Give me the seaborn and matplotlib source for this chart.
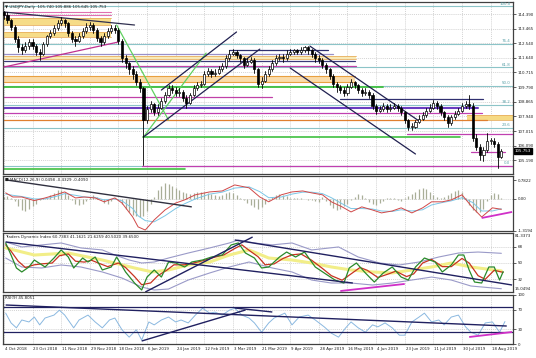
import numpy as np
import pandas as pd
import matplotlib
matplotlib.use("Agg")
import matplotlib.pyplot as plt
import seaborn as sns

sns.set_style("white")
plt.rcParams['font.family'] = ['DejaVu Sans']

# ---------------- DATA ----------------
date_labels = ["4 Oct 2018", "23 Oct 2018", "11 Nov 2018", "29 Nov 2018", "18 Dec 2018",
               "6 Jan 2019", "24 Jan 2019", "12 Feb 2019", "3 Mar 2019", "21 Mar 2019",
               "9 Apr 2019", "28 Apr 2019", "16 May 2019", "4 Jun 2019", "23 Jun 2019",
               "11 Jul 2019", "30 Jul 2019", "18 Aug 2019"]
bars_per_label = 16

# candles: one candle per 2 daily bars
close = [114.3, 114.0, 113.6, 112.8, 112.3, 112.1, 112.4, 112.6, 112.4, 112.0,
         111.9, 112.5, 113.0, 113.2, 113.5, 113.8, 114.0, 113.8, 113.2, 112.8,
         112.7, 113.0, 113.3, 113.6, 113.7, 113.4, 112.9, 112.6, 113.0, 113.3,
         113.5, 113.4, 112.7, 111.6, 111.3, 110.9, 110.6, 110.1, 109.7, 107.7,
         108.4, 108.7, 108.2, 108.5, 108.9, 109.3, 109.7, 109.6, 109.4, 109.5,
         109.1, 108.8, 109.3, 109.7, 109.9, 110.0, 110.6, 110.8, 110.6, 110.7,
         110.9, 111.1, 111.6, 111.9, 112.0, 111.8, 111.6, 111.2, 111.4, 111.5,
         110.9, 110.0, 110.2, 110.6, 110.9, 111.3, 111.6, 111.7, 111.6, 111.9,
         112.0, 112.1, 112.0, 112.1, 112.3, 112.1, 111.9, 111.6, 111.5, 111.2,
         110.9, 110.5, 110.0, 109.8, 109.6, 109.4, 109.8, 110.1, 109.9, 109.6,
         109.4, 109.5, 109.3, 108.6, 108.3, 108.4, 108.6, 108.4, 108.5, 108.6,
         108.5, 108.2, 107.7, 107.3, 107.3, 107.6, 107.8, 108.0, 108.3, 108.5,
         108.8, 108.6, 108.2, 107.9, 107.5, 107.9, 108.1, 108.3, 108.6, 108.7,
         108.6, 106.6, 106.0, 105.5, 105.8, 106.4, 106.4, 106.2, 105.4, 105.753]
high = [114.6, 114.5, 114.1, 113.7, 113.0, 112.5, 112.6, 112.8, 112.8, 112.5,
        112.2, 112.6, 113.1, 113.4, 113.7, 114.0, 114.2, 114.1, 113.9, 113.3,
        113.0, 113.2, 113.5, 113.8, 113.9, 113.8, 113.5, 113.0, 113.2, 113.5,
        113.7, 113.7, 113.5, 112.8, 111.8, 111.4, 111.1, 110.8, 110.3, 109.8,
        108.6, 108.9, 108.8, 108.7, 109.1, 109.5, 109.9, 109.9, 109.8, 109.7,
        109.6, 109.3, 109.4, 109.9, 110.1, 110.2, 110.8, 111.0, 110.9, 110.9,
        111.1, 111.3, 111.8, 112.1, 112.2, 112.1, 111.9, 111.7, 111.6, 111.7,
        111.6, 111.0, 110.4, 110.8, 111.1, 111.5, 111.8, 111.9, 111.9, 112.1,
        112.2, 112.2, 112.2, 112.3, 112.4, 112.4, 112.2, 112.0, 111.8, 111.6,
        111.3, 111.0, 110.6, 110.1, 109.9, 109.8, 110.0, 110.3, 110.2, 110.0,
        109.7, 109.7, 109.6, 109.4, 108.7, 108.6, 108.8, 108.7, 108.7, 108.8,
        108.7, 108.6, 108.3, 107.8, 107.5, 107.7, 108.0, 108.2, 108.5, 108.7,
        109.0, 108.9, 108.7, 108.3, 108.0, 108.0, 108.3, 108.5, 108.8, 108.9,
        109.3, 108.8, 106.8, 106.2, 106.0, 106.9, 106.6, 106.6, 106.3, 105.9]
low = [114.1, 113.8, 113.4, 112.6, 112.0, 111.9, 112.0, 112.2, 112.2, 111.8,
       111.5, 111.8, 112.4, 112.9, 113.1, 113.4, 113.7, 113.6, 113.0, 112.6,
       112.4, 112.6, 112.9, 113.2, 113.4, 113.2, 112.7, 112.4, 112.5, 112.9,
       113.2, 113.2, 112.5, 111.4, 111.0, 110.6, 110.3, 109.9, 109.5, 104.9,
       107.5, 108.2, 108.0, 108.0, 108.4, 108.8, 109.2, 109.4, 109.2, 109.2,
       108.9, 108.5, 108.7, 109.2, 109.6, 109.8, 109.9, 110.5, 110.4, 110.5,
       110.6, 110.8, 111.0, 111.5, 111.8, 111.6, 111.4, 111.0, 111.1, 111.3,
       110.7, 109.8, 109.7, 110.1, 110.5, 110.8, 111.2, 111.5, 111.4, 111.5,
       111.8, 111.9, 111.9, 111.9, 112.0, 111.9, 111.7, 111.4, 111.3, 111.0,
       110.7, 110.3, 109.8, 109.5, 109.4, 109.2, 109.3, 109.7, 109.7, 109.4,
       109.2, 109.3, 109.1, 108.4, 108.1, 108.2, 108.3, 108.2, 108.3, 108.4,
       108.3, 108.0, 107.5, 107.1, 107.1, 107.2, 107.5, 107.7, 107.9, 108.2,
       108.4, 108.4, 108.0, 107.7, 107.3, 107.4, 107.8, 108.0, 108.2, 108.5,
       108.4, 106.4, 105.8, 105.2, 105.1, 105.7, 106.2, 106.0, 104.7, 105.3]
first_open = 114.5

price_ticks = [114.390, 113.465, 112.540, 111.640, 110.715, 109.790, 108.865,
               107.940, 107.015, 106.090, 105.190, 104.265]
last_price = 105.753

fib_low, fib_high = 104.83, 114.87
fib_levels = [0.0, 23.6, 38.2, 50.0, 61.8, 76.4, 100.0]

# horizontal levels drawn on price chart: price, start bar, end bar
hl_price = [114.52, 114.33, 111.87, 111.43, 111.11, 110.48, 110.10, 109.79, 109.14,
            109.03, 108.45, 108.13, 107.71, 106.83, 106.64, 105.71, 104.81, 104.62, 112.12]
hl_start = [0, 0, 0, 0, 0, 0, 0, 0, 0, 188, 0, 0, 0, 225, 78, 261, 77, 0, 126]
hl_end = [60, 60, 184, 196, 197, 196, 196, 212, 150, 268, 265, 267, 270, 285, 255, 280, 285, 101, 181]
hl_color = ["#e070b0", "#e070b0", "#9a90c8", "#3a3a78", "#c040a8", "#e8a040", "#e8a040",
            "#40c040", "#c040a8", "#303070", "#6a3cc0", "#c040b0", "#e08030", "#c040b0",
            "#40c040", "#c040b0", "#c040b0", "#40c040", "#303070"]
hl_width = [0.8, 0.8, 0.9, 0.9, 0.9, 0.8, 0.8, 1.3, 0.9, 0.9, 1.5, 0.9, 0.9, 0.9,
            1.2, 0.9, 0.9, 1.2, 0.9]

band_lo = [113.70, 112.94, 111.54, 110.10, 107.71]
band_hi = [114.14, 113.26, 111.74, 110.48, 108.03]
band_start = [0, 0, 0, 0, 259]
band_end = [60, 60, 197, 196, 285]
band_color = ["#f6dc88", "#f6dc88", "#f8eab8", "#fadcaa", "#f6da84"]

# trend lines on price chart: (bar0, price0, bar1, price1)
price_trends = [(0, 114.52, 73, 113.70), (0, 111.05, 64, 112.63),
                (63, 113.70, 92, 107.71), (78, 106.64, 113, 111.93),
                (78, 106.64, 143, 112.18), (88, 109.60, 130, 113.26),
                (171, 112.37, 232, 107.65), (160, 110.99, 230, 105.57)]
price_trend_color = ["#303050", "#c03090", "#60d060", "#60d060",
                     "#202050", "#202050", "#202050", "#202050"]

# MACD
macd_x = [1, 5, 10, 17, 23, 29, 34, 40, 45, 51, 56, 62, 66, 72, 75, 79, 84, 90, 96, 101,
          107, 115, 122, 129, 137, 143, 148, 155, 161, 167, 172, 178, 183, 189, 194, 200,
          206, 211, 217, 222, 228, 234, 239, 245, 250, 256, 262, 267, 273, 278]
macd_main = [0.25, 0.08, 0.08, -0.07, 0.04, 0.17, 0.29, 0.04, 0.08, 0.04, -0.12, 0.04,
             -0.17, -0.75, -1.16, -1.29, -0.87, -0.46, -0.17, -0.04, 0.17, 0.29, 0.33,
             0.58, 0.46, 0.08, -0.12, 0.17, 0.29, 0.33, 0.25, 0.17, -0.12, -0.33, -0.54,
             -0.33, -0.46, -0.58, -0.5, -0.37, -0.58, -0.37, -0.12, -0.12, -0.04, 0.17,
             -0.37, -0.75, -0.37, -0.43]
macd_signal = [0.2, 0.15, 0.1, 0.0, 0.0, 0.1, 0.22, 0.15, 0.08, 0.06, -0.04, 0.0, -0.08,
               -0.4, -0.7, -0.9, -0.95, -0.7, -0.4, -0.2, 0.0, 0.2, 0.28, 0.45, 0.5, 0.3,
               0.05, 0.08, 0.2, 0.28, 0.28, 0.22, 0.05, -0.2, -0.4, -0.4, -0.42, -0.5,
               -0.52, -0.45, -0.5, -0.45, -0.25, -0.15, -0.08, 0.05, -0.15, -0.5, -0.5, -0.41]
macd_hist = [0.1, 0.12, 0.05, -0.1, -0.3, -0.45, -0.5, -0.4, -0.3, -0.2,
             -0.05, 0.02, 0.05, 0.15, 0.25, 0.35, 0.38, 0.3, 0.15, -0.05,
             -0.2, -0.25, -0.2, -0.08, 0.08, 0.15, 0.1, -0.05, -0.18, -0.2,
             -0.1, 0.02, -0.05, -0.2, -0.4, -0.55, -0.65, -0.7, -0.75, -0.7,
             -0.5, -0.2, 0.1, 0.35, 0.55, 0.65, 0.62, 0.55, 0.45, 0.35,
             0.3, 0.25, 0.2, 0.25, 0.3, 0.3, 0.28, 0.25, 0.2, 0.15,
             0.12, 0.15, 0.25, 0.3, 0.25, 0.15, 0.05, -0.05, -0.15, -0.25,
             -0.35, -0.4, -0.35, -0.2, -0.05, 0.1, 0.18, 0.2, 0.18, 0.12,
             0.05, 0.02, 0.04, 0.03, 0.0, -0.03, -0.06, -0.1, -0.12, 0.1,
             -0.1, -0.25, -0.38, -0.45, -0.4, -0.3, -0.2, -0.05, 0.1, 0.2,
             0.15, 0.02, -0.12, -0.22, -0.25, -0.18, -0.08, 0.02, 0.05, 0.02,
             -0.05, -0.08, 0.02, 0.12, 0.22, 0.3, 0.4, 0.45, 0.42, 0.3,
             0.15, 0.08, 0.05, 0.1, 0.15, 0.25, 0.32, 0.35, 0.28, 0.05,
             -0.25, -0.45, -0.55, -0.55, -0.4, -0.1, 0.15, 0.25, 0.2, 0.05]
macd_trends = [(1, 0.79, 105, -0.33)]
macd_magenta = [(267, -0.79, 284, -0.54)]

# Traders Dynamic Index
tdi_up_x = [1, 10, 21, 32, 43, 55, 62, 70, 77, 84, 92, 103, 115, 126, 131, 140, 150, 161,
            172, 187, 198, 210, 221, 232, 243, 254, 265, 278]
tdi_up = [73.2, 67.7, 69.9, 72.1, 66.6, 64.4, 58.8, 53.3, 50.0, 51.1, 55.5, 61.0, 66.6,
          72.1, 75.4, 72.1, 70.0, 72.1, 64.4, 67.7, 56.6, 50.0, 47.8, 51.1, 56.6, 61.0,
          62.1, 60.7]
tdi_lo_x = [1, 10, 21, 32, 43, 55, 66, 77, 84, 92, 103, 115, 126, 137, 150, 161, 172, 183,
            194, 206, 217, 228, 239, 250, 261, 278]
tdi_lo = [55.5, 45.6, 44.5, 47.8, 45.6, 40.1, 33.4, 23.5, 20.2, 21.3, 31.2, 39.0, 45.6,
          51.1, 44.5, 40.1, 31.2, 27.9, 27.9, 25.7, 27.9, 31.2, 34.5, 31.2, 24.6, 21.6]
tdi_mid_x = [1, 17, 36, 55, 73, 83, 92, 103, 115, 126, 137, 148, 161, 172, 183, 194, 206,
             217, 228, 239, 250, 261, 278]
tdi_mid = [66.6, 58.8, 61.0, 53.3, 44.5, 40.1, 42.3, 47.8, 51.1, 58.8, 64.4, 55.5, 53.3,
           50.0, 45.6, 42.3, 40.1, 39.0, 42.3, 45.6, 50.0, 45.6, 41.2]
tdi_green_x = [1, 4, 7, 10, 14, 17, 23, 28, 32, 36, 39, 44, 47, 51, 55, 60, 63, 68, 73, 77,
               80, 84, 88, 92, 96, 101, 105, 111, 116, 122, 127, 131, 135, 140, 144, 148,
               154, 158, 163, 168, 174, 179, 185, 190, 193, 197, 202, 207, 212, 217, 222,
               226, 230, 235, 241, 245, 250, 254, 257, 260, 263, 267, 271, 274, 277, 279]
tdi_green = [72.1, 58.8, 44.5, 40.1, 45.6, 53.3, 45.6, 55.5, 64.4, 56.6, 44.5, 55.5, 51.1,
             56.6, 42.3, 45.6, 56.6, 40.1, 27.9, 20.2, 34.5, 42.3, 34.5, 51.1, 50.0, 45.6,
             51.1, 53.3, 56.6, 58.8, 69.9, 72.1, 61.0, 55.5, 44.5, 45.6, 56.6, 62.1, 56.6,
             62.1, 45.6, 39.0, 31.2, 27.9, 44.5, 50.0, 39.0, 29.0, 39.0, 45.6, 34.5, 31.2,
             45.6, 55.5, 51.1, 40.1, 47.8, 58.8, 58.8, 42.3, 29.0, 27.9, 45.6, 45.6, 31.2, 40.5]
tdi_red_x = [1, 4, 8, 12, 17, 21, 27, 31, 36, 40, 45, 49, 54, 58, 64, 68, 73, 77, 82, 86,
             91, 95, 101, 106, 112, 117, 123, 129, 133, 137, 142, 146, 151, 156, 161, 166,
             172, 178, 183, 189, 194, 199, 203, 209, 215, 219, 225, 229, 234, 239, 245,
             250, 256, 260, 265, 269, 274, 279]
tdi_red = [70, 63, 52, 45, 48, 49, 50, 58, 60, 52, 51, 53, 49, 46, 50, 45, 35, 26, 28, 36,
           42, 48, 48, 50, 53, 56, 59, 66, 70, 64, 57, 48, 49, 55, 59, 60, 53, 44, 36, 31,
           38, 45, 42, 34, 38, 41, 35, 38, 50, 54, 46, 46, 55, 50, 36, 32, 42, 39.65]
tdi_ticks = [68, 50, 32]
tdi_trends = [(1, 73.2, 195, 27.9), (129, 75.4, 284, 25.7), (79, 18.0, 139, 78.7)]
tdi_magenta = [(188, 19.1, 224, 26.9)]

# RSI
rsi_x = [1, 4, 7, 10, 14, 17, 20, 23, 28, 31, 34, 39, 42, 47, 51, 55, 59, 62, 66, 70,
         74, 77, 81, 84, 88, 92, 96, 99, 103, 107, 111, 115, 118, 122, 126, 129, 133, 137,
         140, 144, 148, 151, 157, 161, 165, 170, 174, 179, 183, 187, 191, 194, 198, 202,
         206, 209, 213, 217, 221, 224, 228, 232, 235, 239, 243, 246, 250, 254, 258, 261,
         265, 269, 273, 277, 280]
rsi = [63, 43, 33, 49, 45, 55, 39, 53, 59, 69, 59, 33, 49, 59, 45, 33, 49, 53, 29, 14,
       29, 8, 45, 39, 49, 55, 45, 49, 43, 59, 73, 63, 65, 59, 69, 73, 59, 53, 43, 24,
       43, 53, 63, 39, 55, 59, 49, 35, 22, 14, 33, 45, 33, 24, 39, 35, 43, 33, 18, 18,
       45, 55, 63, 45, 49, 39, 55, 59, 35, 24, 18, 43, 45, 24, 45.8]
rsi_ticks = [100, 70, 30, 0]
rsi_hlines = [76.1, 25.1]
rsi_trends = [(1, 79.6, 281, 36.7), (77, 6.1, 135, 69.4), (129, 73.5, 150, 65.3)]
rsi_magenta = [(260, 14.3, 284, 24.5)]

# ---------------- FIGURE ----------------
W, H = 536, 358
fig = plt.figure(figsize=(W / 100, H / 100), dpi=100)
fig.patch.set_facecolor("white")
FS = 2.9
DFS = 2.8
GRID = "#c4c4c4"
NAVY = "#202060"
TXT = "#202020"
XMIN, XMAX = -0.5, 284.5


def add_ax(top, bottom, left=3, right=513):
    return fig.add_axes([left / W, 1 - bottom / H, (right - left) / W, (bottom - top) / H])


def style(ax, yt, ylabels):
    ax.set_xlim(XMIN, XMAX)
    ax.yaxis.tick_right()
    ax.set_yticks(yt)
    ax.set_yticklabels(ylabels)
    ax.tick_params(axis="y", labelsize=FS, length=2, width=0.5, pad=1.5, colors=TXT)
    ax.set_xticks([bars_per_label * k for k in range(len(date_labels))])
    ax.set_xticklabels([])
    ax.tick_params(axis="x", length=0)
    ax.grid(True, color=GRID, linestyle=(0, (1.5, 1.5)), linewidth=0.5)
    ax.set_axisbelow(True)
    for s in ax.spines.values():
        s.set_color("#404040")
        s.set_linewidth(0.9)
    ax.set_xlabel("")
    ax.set_ylabel("")


def seg(ax, lines, color, lw=0.9):
    for (x0, y0, x1, y1) in lines:
        ax.plot([x0, x1], [y0, y1], color=color, lw=lw, solid_capstyle="butt")


# ---- price panel ----
axp = add_ax(2, 174)
style(axp, price_ticks, [f"{v:.3f}" for v in price_ticks])
axp.set_ylim(104.31, 115.15)

for lo, hi, s, e, c in zip(band_lo, band_hi, band_start, band_end, band_color):
    axp.fill_between([s, e], lo, hi, color=c, lw=0, zorder=1)
    axp.plot([s, e], [lo, lo], color="#e8b060", lw=0.6, zorder=1)
    axp.plot([s, e], [hi, hi], color="#e8b060", lw=0.6, zorder=1)

for lv in fib_levels:
    p = fib_low + (fib_high - fib_low) * lv / 100.0
    axp.axhline(p, color="#8cc4c8", lw=0.8, zorder=1.5)
    axp.text(0.995, p + 0.05, f"{lv:.1f}", transform=axp.get_yaxis_transform(),
             ha="right", va="bottom", fontsize=FS, color="#5aa0a8")

for p, s, e, c, w in zip(hl_price, hl_start, hl_end, hl_color, hl_width):
    axp.plot([s, e], [p, p], color=c, lw=w, zorder=2)

for (x0, y0, x1, y1), c in zip(price_trends, price_trend_color):
    axp.plot([x0, x1], [y0, y1], color=c, lw=0.9, zorder=3)

opens = [first_open] + close[:-1]
cx = np.arange(len(close)) * 2
for x, o, h, l, c in zip(cx, opens, high, low, close):
    axp.plot([x, x], [l, h], color="black", lw=0.6, zorder=4)
    bull = c >= o
    bot, top = min(o, c), max(o, c)
    height = max(top - bot, 0.03)
    axp.add_patch(plt.Rectangle((x - 0.6, bot), 1.2, height, facecolor="white" if bull else "black",
                                edgecolor="black", lw=0.5, zorder=5))

axp.text(1.004, last_price, f"{last_price:.3f}", transform=axp.get_yaxis_transform(),
         ha="left", va="center", fontsize=FS, color="white",
         bbox=dict(boxstyle="square,pad=0.15", fc="black", ec="black"), clip_on=False, zorder=10)
axp.text(0.004, 0.985, "\u25bc USDJPY,Daily  105.740 105.886 105.645 105.753", transform=axp.transAxes,
         ha="left", va="top", fontsize=FS, color=TXT)

# ---- MACD panel ----
axm = add_ax(176, 231)
axm.axhline(0, color=GRID, lw=0.5, ls=(0, (1.5, 1.5)))
axm.vlines(np.arange(len(macd_hist)) * 2, 0, macd_hist, color="#a9ae98", lw=0.9, zorder=2)
mdf = pd.DataFrame({"bar": macd_x, "main": macd_main, "signal": macd_signal})
sns.lineplot(data=mdf, x="bar", y="signal", ax=axm, color="#7cc6e6", lw=0.7, estimator=None, errorbar=None)
sns.lineplot(data=mdf, x="bar", y="main", ax=axm, color="#d04848", lw=0.7, estimator=None, errorbar=None)
seg(axm, macd_trends, "#303040", 1.0)
seg(axm, macd_magenta, "#d030c8", 1.3)
style(axm, [0.7822, 0.0, -1.3194], ["0.7822", "0.00", "-1.3194"])
axm.set_ylim(-1.33, 0.95)
axm.grid(False, axis="y")
axm.text(0.004, 0.97, "\u25a0 MACD(12,26,9) 0.0498 -0.4329 -0.4090", transform=axm.transAxes,
         ha="left", va="top", fontsize=FS, color=TXT)

# ---- TDI panel ----
axt = add_ax(233, 292)
sns.lineplot(x=tdi_mid_x, y=tdi_mid, ax=axt, color="#f2ee88", lw=2.2, estimator=None, errorbar=None)
sns.lineplot(x=tdi_up_x, y=tdi_up, ax=axt, color="#9a9ac8", lw=0.8, estimator=None, errorbar=None)
sns.lineplot(x=tdi_lo_x, y=tdi_lo, ax=axt, color="#9a9ac8", lw=0.8, estimator=None, errorbar=None)
sns.lineplot(x=tdi_red_x, y=tdi_red, ax=axt, color="#c83220", lw=0.9, estimator=None, errorbar=None)
sns.lineplot(x=tdi_green_x, y=tdi_green, ax=axt, color="#2a8a2a", lw=0.9, estimator=None, errorbar=None)
seg(axt, tdi_trends, NAVY, 1.0)
seg(axt, tdi_magenta, "#d030c8", 1.3)
style(axt, tdi_ticks, [str(v) for v in tdi_ticks])
axt.set_ylim(18.0, 83.1)
axt.text(1.004, 0.985, "81.3373", transform=axt.transAxes, ha="left", va="top", fontsize=FS, color=TXT)
axt.text(1.004, 0.015, "15.0494", transform=axt.transAxes, ha="left", va="bottom", fontsize=FS, color=TXT)
axt.text(0.004, 0.97, "Traders Dynamic Index 60.7383 41.1621 21.6259 40.5020 39.6500",
         transform=axt.transAxes, ha="left", va="top", fontsize=FS, color=TXT)

# ---- RSI panel ----
axr = add_ax(295, 344)
sns.lineplot(x=rsi_x, y=rsi, ax=axr, color="#8ab8e0", lw=0.7, estimator=None, errorbar=None)
for v in rsi_hlines:
    axr.axhline(v, color=NAVY, lw=0.9)
seg(axr, rsi_trends, NAVY, 1.0)
seg(axr, rsi_magenta, "#d030c8", 1.3)
style(axr, rsi_ticks, [str(v) for v in rsi_ticks])
axr.set_ylim(0, 100)
axr.text(0.004, 0.97, "RSI(9) 45.8051", transform=axr.transAxes, ha="left", va="top",
         fontsize=FS, color=TXT)

# date labels
for k, lab in enumerate(date_labels):
    axr.text(bars_per_label * k + 0.5, -0.07, lab, transform=axr.get_xaxis_transform(),
             ha="left", va="top", fontsize=DFS, color=TXT, clip_on=False)

fig.savefig("out.png", dpi=100, facecolor="white")
